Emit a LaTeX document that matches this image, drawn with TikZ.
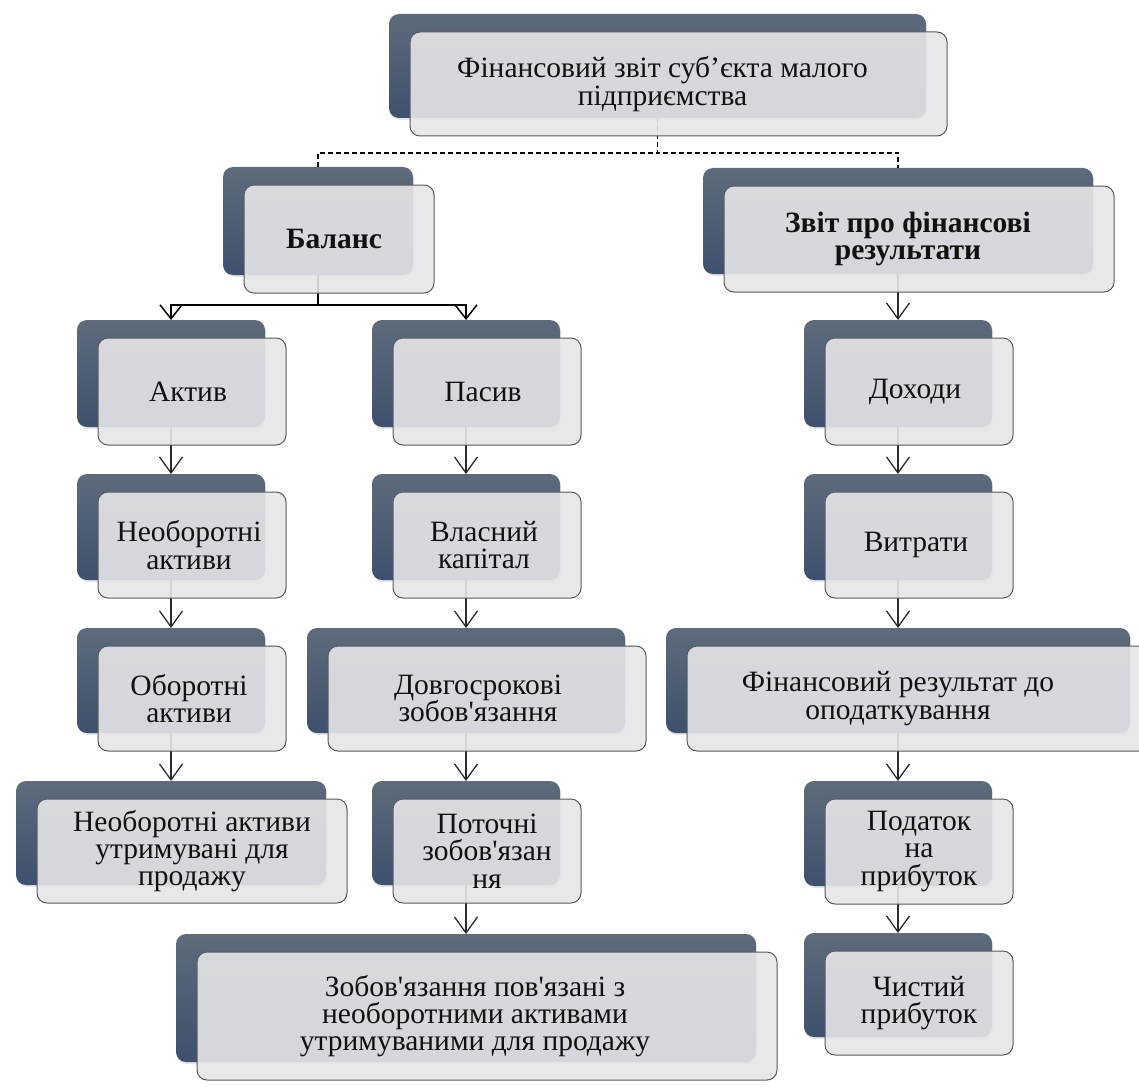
\documentclass[tikz,border=0pt]{standalone}
\usepackage{fontspec}
\setmainfont{Liberation Serif}
\newfontfamily\uaserif{Liberation Serif}
\usetikzlibrary{arrows.meta,shadows}
\definecolor{backtop}{HTML}{5E6B7C}
\definecolor{backbot}{HTML}{3E506C}
\definecolor{frontfill}{HTML}{E6E6E9}
\definecolor{frontline}{HTML}{5A5A5A}
\definecolor{txtcol}{HTML}{111111}
\definecolor{arrcol}{HTML}{2B2B2B}
\pgfdeclarelayer{bg}
\pgfdeclarelayer{back}
\pgfdeclarelayer{conn}
\pgfsetlayers{bg,back,conn,main}
\tikzset{
  backbox/.style={rectangle, rounded corners=10pt, inner sep=0pt, outer sep=0pt,
    top color=backtop, bottom color=backbot, draw=none,
    drop shadow={shadow xshift=1pt, shadow yshift=-2pt, opacity=0.2}},
  frontbox/.style={rectangle, rounded corners=10pt, inner sep=0pt, outer sep=0pt,
    draw=frontline, line width=1pt, fill=frontfill, fill opacity=0.9, draw opacity=1},
  txt/.style={align=center, inner sep=0pt, text=txtcol,
    font=\uaserif\fontsize{29.5pt}{27.3pt}\selectfont},
  boldtxt/.style={font=\uaserif\fontsize{29.5pt}{27.3pt}\selectfont\bfseries},
  flow/.style={draw=arrcol, line width=1.3pt, -{Straight Barb[length=16pt,width=23pt]}},
  treeline/.style={draw=black, line width=1.5pt, -{Straight Barb[length=14pt,width=22pt]}},
  dashline/.style={draw=black, line width=1.7pt, dash pattern=on 5pt off 3pt}
}
% #1 name, #2 x1, #3 y1, #4 x2, #5 y2 (back box corners), #6 text options, #7 text
\newcommand\pairbox[7]{%
  \pgfmathsetmacro\pbw{#4-#2}%
  \pgfmathsetmacro\pbh{#5-#3}%
  \pgfmathsetmacro\pbx{(#2+#4)/2}%
  \pgfmathsetmacro\pby{(#3+#5)/2}%
  \begin{pgfonlayer}{back}
    \node[backbox, minimum width=\pbw pt, minimum height=\pbh pt]
      (#1b) at (\pbx,\pby) {};
  \end{pgfonlayer}
  \node[frontbox, minimum width=\pbw pt, minimum height=\pbh pt]
    (#1f) at (\pbx+21,\pby+18) {};
  \node[txt,#6] (#1t) at (#1f.center) {#7};
}
\begin{document}
\lineskiplimit=-50pt
\begin{tikzpicture}[x=1pt,y=-1pt]
\begin{pgfonlayer}{bg}
\fill[white] (0,0) rectangle (1139,1086);
\end{pgfonlayer}
\useasboundingbox (0,0) rectangle (1139,1086);

\pairbox{top}{389}{14}{926}{118}{xshift=-16pt}{Фінансовий звіт суб’єкта малого\\підприємства}
\pairbox{bal}{223}{167}{413}{275}{boldtxt,xshift=-5pt}{Баланс}
\pairbox{zvit}{703}{168}{1093}{274}{boldtxt,xshift=-11pt}{Звіт про фінансові\\результати}

\pairbox{activ}{77}{320}{265}{427}{xshift=-4pt}{Актив}
\pairbox{pasyv}{372}{320}{560}{427}{xshift=-4pt}{Пасив}
\pairbox{dokh}{804}{320}{992}{427}{xshift=-4pt}{Доходи}

\pairbox{neob}{77}{474}{265}{580}{xshift=-3pt}{Необоротні\\активи}
\pairbox{vlasn}{372}{474}{560}{580}{xshift=-3pt}{Власний\\капітал}
\pairbox{vytr}{804}{474}{992}{580}{xshift=-3pt}{Витрати}

\pairbox{obor}{77}{628}{265}{733}{xshift=-3pt}{Оборотні\\активи}
\pairbox{dovh}{307}{628}{625}{733}{xshift=-9pt}{Довгосрокові\\зобов'язання}
\pairbox{finres}{666}{628}{1130}{733}{xshift=-21pt}{Фінансовий результат до\\оподаткування}

\pairbox{neobprod}{16}{781}{326}{885}{}{Необоротні активи\\утримувані для\\продажу}
\pairbox{potoch}{372}{781}{560}{885}{}{Поточні\\зобов'язан\\ня}
\pairbox{podat}{804}{781}{992}{886}{}{Податок\\на\\прибуток}

\pairbox{zobov}{176}{934}{756}{1062}{xshift=-12pt}{Зобов'язання пов'язані з\\необоротними активами\\утримуваними для продажу}
\pairbox{chyst}{804}{933}{992}{1037}{}{Чистий\\прибуток}

\begin{pgfonlayer}{conn}
  \draw[dashline] (topb.south) -- ++(0,35) -| (balb.north);
  \draw[dashline] (topb.south) -- ++(0,35) -| (zvitb.north);
  \draw[treeline] (balb.south) -- ++(0,30) -| (activb.north);
  \draw[treeline] (balb.south) -- ++(0,30) -| (pasyvb.north);
  \draw[flow] (activb.south) -- (neobb.north);
  \draw[flow] (neobb.south) -- (oborb.north);
  \draw[flow] (oborb.south) -- (neobprodb.north);
  \draw[flow] (pasyvb.south) -- (vlasnb.north);
  \draw[flow] (vlasnb.south) -- (dovhb.north);
  \draw[flow] (dovhb.south) -- (potochb.north);
  \draw[flow] (potochb.south) -- (zobovb.north);
  \draw[flow] (zvitb.south) -- (dokhb.north);
  \draw[flow] (dokhb.south) -- (vytrb.north);
  \draw[flow] (vytrb.south) -- (finresb.north);
  \draw[flow] (finresb.south) -- (podatb.north);
  \draw[flow] (podatb.south) -- (chystb.north);
\end{pgfonlayer}
\end{tikzpicture}
\end{document}
